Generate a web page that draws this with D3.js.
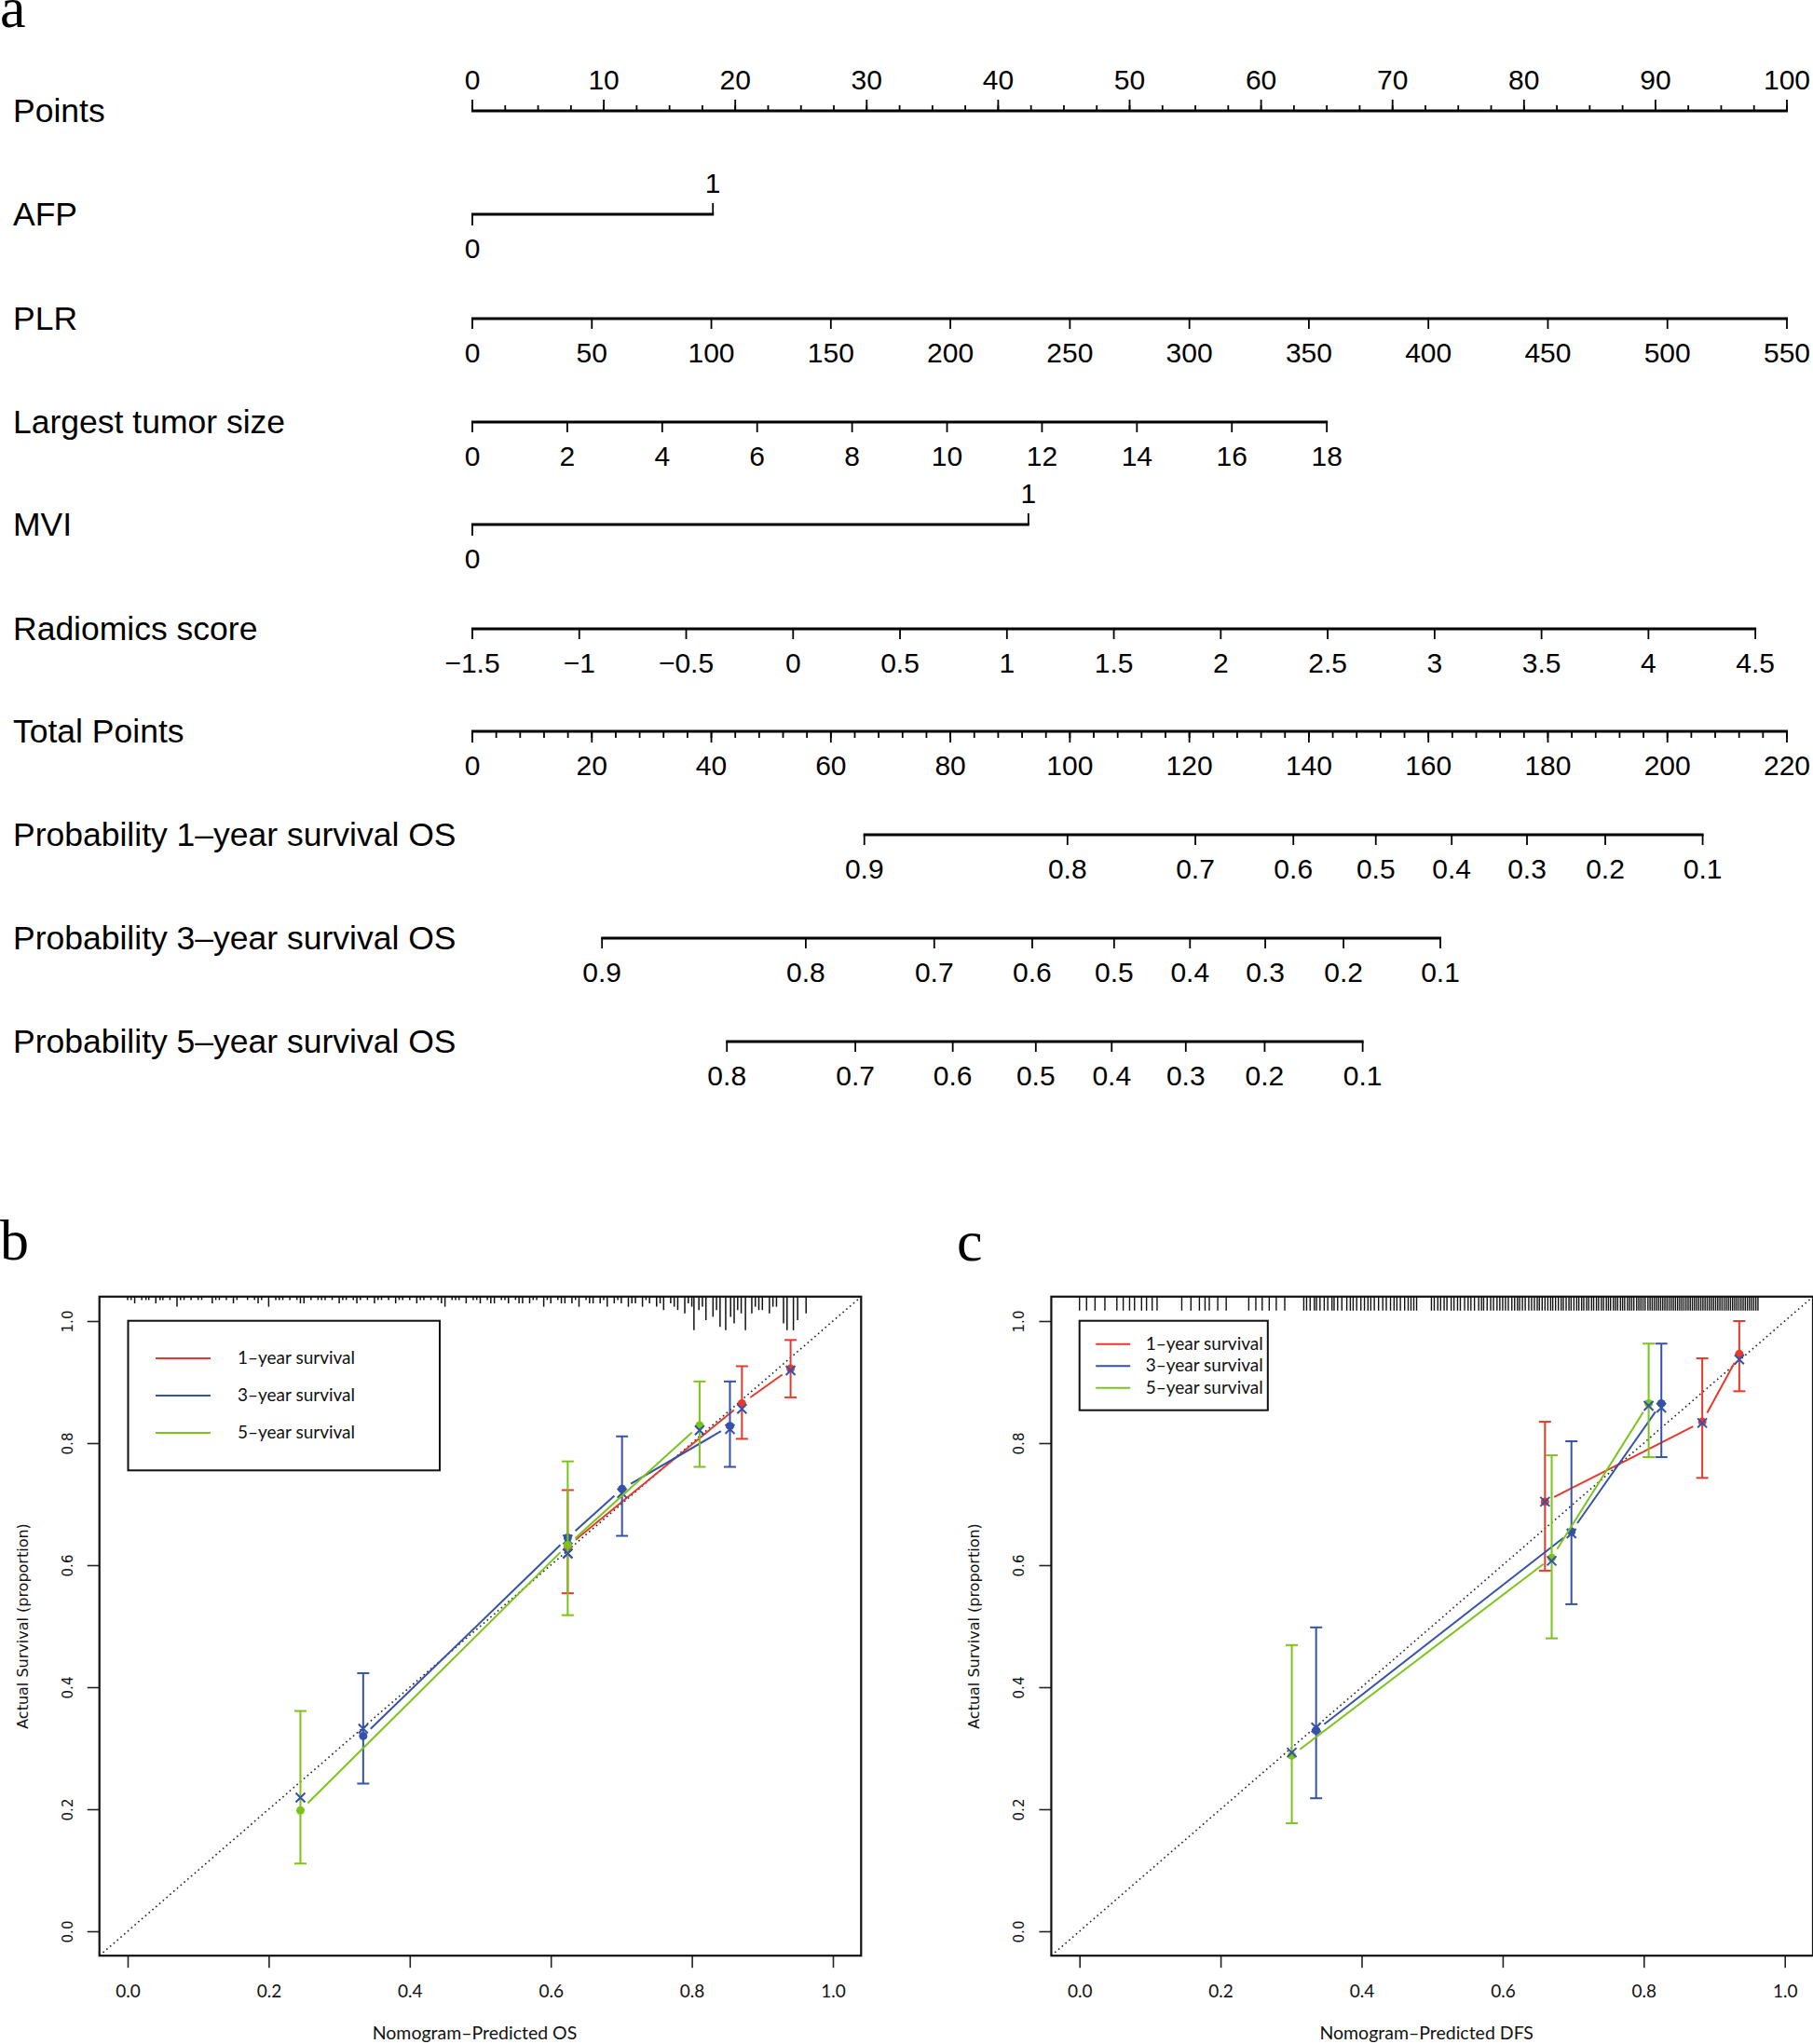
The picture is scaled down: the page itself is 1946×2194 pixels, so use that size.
<!DOCTYPE html>
<html><head><meta charset="utf-8">
<script src="https://cdn.jsdelivr.net/npm/d3@7/dist/d3.min.js"></script>
<style>html,body{margin:0;padding:0;background:#fff;} svg{display:block;}</style>
</head><body>
<script>
// ================= Nomogram data =================
const rowNames = ["Points","AFP","PLR","Largest tumor size","MVI","Radiomics score","Total Points",
  "Probability 1\u2013year survival OS","Probability 3\u2013year survival OS","Probability 5\u2013year survival OS"];
const pointsTicks = [0,10,20,30,40,50,60,70,80,90,100];
const afpLevels = [0,1];
const afpPoints = [0,18.3];
const plrTicks = [0,50,100,150,200,250,300,350,400,450,500,550];
const plrMaxPoints = 100;
const tumorTicks = [0,2,4,6,8,10,12,14,16,18];
const tumorMaxPoints = 65.0;
const mviLevels = [0,1];
const mviPoints = [0,42.3];
const radTicks = [-1.5,-1,-0.5,0,0.5,1,1.5,2,2.5,3,3.5,4,4.5];
const radMaxPoints = 97.6;
const totalTicks = [0,20,40,60,80,100,120,140,160,180,200,220];
const prob1Labels = [0.9,0.8,0.7,0.6,0.5,0.4,0.3,0.2,0.1];
const prob1Total  = [65.6,99.6,121.0,137.4,151.2,163.9,176.5,189.6,205.9];
const prob3Labels = [0.9,0.8,0.7,0.6,0.5,0.4,0.3,0.2,0.1];
const prob3Total  = [21.7,55.8,77.3,93.7,107.4,120.1,132.7,145.8,162.0];
const prob5Labels = [0.8,0.7,0.6,0.5,0.4,0.3,0.2,0.1];
const prob5Total  = [42.6,64.1,80.4,94.3,107.0,119.4,132.6,149.0];

// ================= Calibration data: OS (panel b) =================
const osRedPred  = [0.624,0.871,0.940];
const osRedObs   = [0.631,0.865,0.922];
const osRedLo    = [0.554,0.807,0.875];
const osRedHi    = [0.723,0.926,0.969];
const osRedCorr  = [0.619,0.856,0.919];
const osBluePred = [0.334,0.624,0.701,0.854];
const osBlueObs  = [0.320,0.645,0.725,0.828];
const osBlueLo   = [0.242,null,0.648,0.761];
const osBlueHi   = [0.423,null,0.811,0.901];
const osBlueCorr = [0.332,0.642,0.718,0.823];
const osGreenPred= [0.245,0.624,0.811];
const osGreenObs = [0.198,0.633,0.829];
const osGreenLo  = [0.111,0.518,0.761];
const osGreenHi  = [0.361,0.770,0.901];
const osGreenCorr= [0.219,0.619,0.821];
// distribution of predicted OS (spike histogram at top): value, frequency
const osRugVal = [0.00,0.005,0.01,0.02,0.026,0.03,0.04,0.046,0.05,0.06,0.07,0.075,0.08,0.09,0.10,0.105,0.12,0.125,0.13,0.14,
  0.15,0.155,0.17,0.18,0.185,0.19,0.20,0.21,0.215,0.22,0.23,0.24,0.245,0.25,0.26,0.27,0.275,0.28,0.29,0.30,
  0.305,0.31,0.32,0.325,0.33,0.34,0.35,0.355,0.36,0.37,0.38,0.385,0.39,0.40,0.41,0.415,0.42,0.43,0.44,0.445,
  0.45,0.46,0.465,0.47,0.48,0.49,0.495,0.50,0.51,0.515,0.52,0.53,0.535,0.54,0.55,0.555,0.56,0.57,0.575,0.58,
  0.59,0.595,0.60,0.61,0.615,0.62,0.63,0.635,0.64,0.65,0.655,0.66,0.67,0.675,0.68,0.69,0.695,0.70,0.71,0.715,
  0.72,0.73,0.735,0.74,0.75,0.755,0.76,0.77,0.775,0.78,0.79,0.795,0.80,0.803,0.81,0.815,0.82,0.83,0.835,0.84,
  0.848,0.855,0.86,0.865,0.87,0.876,0.885,0.89,0.895,0.90,0.91,0.915,0.92,0.93,0.935,0.944,0.95,0.962];
const osRugCnt = [1,1,2,1,1,1,2,1,1,1,3,1,1,1,1,1,2,1,1,1,
  2,1,1,1,2,1,3,1,1,1,1,1,2,2,1,1,1,1,1,2,
  1,1,1,2,1,1,2,1,1,1,2,1,1,1,2,1,1,1,1,2,
  3,1,1,1,2,1,1,2,1,2,2,1,1,2,1,2,2,2,1,1,
  3,1,2,1,2,2,2,1,3,1,2,2,2,1,3,2,1,2,3,2,
  2,3,1,2,3,2,4,2,3,4,5,2,3,10,4,3,7,6,4,9,
  10,6,8,4,5,10,5,3,4,4,5,3,3,8,10,10,7,5];

// ================= Calibration data: DFS (panel c) =================
const dfsRedPred  = [0.660,0.883,0.9355];
const dfsRedObs   = [0.704,0.835,0.946];
const dfsRedLo    = [0.591,0.743,0.885];
const dfsRedHi    = [0.835,0.939,1.000];
const dfsRedCorr  = [0.704,0.833,0.937];
const dfsBluePred = [0.3355,0.6975,0.825];
const dfsBlueObs  = [0.329,0.655,0.865];
const dfsBlueLo   = [0.218,0.536,0.777];
const dfsBlueHi   = [0.498,0.803,0.963];
const dfsBlueCorr = [0.334,0.652,0.858];
const dfsGreenPred= [0.301,0.6695,0.807];
const dfsGreenObs = [0.288,0.612,0.865];
const dfsGreenLo  = [0.177,0.480,0.777];
const dfsGreenHi  = [0.469,0.780,0.963];
const dfsGreenCorr= [0.293,0.607,0.861];
const dfsRugVal = [0.000,0.010,0.022,0.036,0.053,0.062,0.071,0.078,0.088,0.095,0.103,0.110,
  0.145,0.158,0.170,0.178,0.184,0.196,0.208,
  0.240,0.250,0.259,0.269,0.279,0.291,
  0.318,0.322,0.327,0.333,0.336,0.341,0.347,0.352,0.358,0.361,0.366,0.372,0.379,0.384,0.388,0.393,0.399,
  0.404,0.409,0.413,0.418,0.424,0.430,0.435,0.441,0.446,0.450,0.455,0.461,0.466,0.470,0.474,0.478,
  0.499,0.503,0.508,0.512,0.517,0.521,0.527,0.531,0.536,0.540,0.546,0.551,0.555,0.560,0.566,0.570,
  0.573,0.578,0.583,0.587,0.592,0.596,0.600,0.604,0.608,0.613,0.617,0.621,0.624,0.628,0.632,0.637,
  0.641,0.645,0.649,0.652,0.656,0.660,0.664,0.668,0.671,0.675,0.679,0.683,0.686,0.690,0.694,0.697,
  0.701,0.705,0.708,0.712,0.715,0.719,0.722,0.726,0.729,0.733,0.736,0.740,0.743,0.747,0.750,0.753,
  0.757,0.760,0.763,0.767,0.770,0.773,0.777,0.780,0.783,0.786,0.790,0.793,0.796,0.799,0.802,0.806,
  0.809,0.812,0.815,0.818,0.821,0.824,0.827,0.830,0.833,0.836,0.839,0.842,0.845,0.848,0.851,0.854,
  0.857,0.860,0.863,0.866,0.869,0.872,0.875,0.878,0.881,0.884,0.887,0.890,0.893,0.896,0.899,0.902,
  0.905,0.908,0.911,0.914,0.917,0.920,0.923,0.926,0.929,0.932,0.935,0.938,0.941,0.944,0.947,0.950,
  0.953,0.956,0.959,0.962];

const legendLabels = ["1\u2013year survival","3\u2013year survival","5\u2013year survival"];
const seriesColors = ["#e8392b","#3552a8","#7bc41a"];
const xTickVals = [0,0.2,0.4,0.6,0.8,1.0];
const yTickVals = [0,0.2,0.4,0.6,0.8,1.0];

// ================= Drawing =================
const W = 1946, H = 2194;
const SANS = "'Liberation Sans', Arial, Helvetica, sans-serif";
const svg = d3.select("body").append("svg").attr("width", W).attr("height", H)
  .style("font-family", SANS);

// panel letters
const SERIF = "'Liberation Serif', 'Times New Roman', serif";
svg.append("text").attr("x", 0).attr("y", 29).attr("font-family", SERIF).attr("font-size", 62).text("a");
svg.append("text").attr("x", 0).attr("y", 1352).attr("font-family", SERIF).attr("font-size", 62).text("b");
svg.append("text").attr("x", 1027).attr("y", 1353).attr("font-family", SERIF).attr("font-size", 62).text("c");

// ---- nomogram ----
const ptsX = d3.scaleLinear([0,100],[507,1918]);
const totX = d3.scaleLinear([0,220],[507,1918]);
const rowY = [119,230,342,453,563,675,785,896,1007,1118];
const nom = svg.append("g");
const LBL = 35.5, TCK = 30;
const fmt = d => String(d).replace("-", "\u2212");

rowNames.forEach((n,i) => {
  nom.append("text").attr("x", 14).attr("y", rowY[i] + 12).attr("font-size", LBL).text(n);
});

function hline(x1, x2, y) {
  nom.append("line").attr("x1", x1).attr("x2", x2).attr("y1", y).attr("y2", y)
    .attr("stroke", "#000").attr("stroke-width", 3).attr("stroke-linecap", "butt");
}
function tick(x, y, len) {
  nom.append("line").attr("x1", x).attr("x2", x).attr("y1", y).attr("y2", y + len)
    .attr("stroke", "#000").attr("stroke-width", 1.8);
}
function lab(x, y, t) {
  nom.append("text").attr("x", x).attr("y", y).attr("text-anchor", "middle")
    .attr("font-size", TCK).text(t);
}

// Points axis (ticks up, labels above)
{
  const y = rowY[0];
  hline(ptsX(0) - 1, ptsX(100) + 1, y);
  const minor = d3.range(0, 100.001, 2.5);
  minor.forEach(v => tick(ptsX(v), y, -6));
  pointsTicks.forEach(v => { tick(ptsX(v), y, -12); lab(ptsX(v), y - 23.5, v); });
}
// AFP (binary)
{
  const y = rowY[1];
  const xs = afpPoints.map(p => ptsX(p));
  hline(xs[0] - 1, xs[1] + 1, y);
  tick(xs[0], y, 12); lab(xs[0], y + 47, afpLevels[0]);
  tick(xs[1], y, -12); lab(xs[1], y - 23.5, afpLevels[1]);
}
// continuous variable helper
function contAxis(y, ticks, maxPts) {
  const vx = d3.scaleLinear([ticks[0], ticks[ticks.length - 1]], [ptsX(0), ptsX(maxPts)]);
  hline(vx(ticks[0]) - 1, vx(ticks[ticks.length - 1]) + 1, y);
  ticks.forEach(v => { tick(vx(v), y, 11); lab(vx(v), y + 47, fmt(v)); });
}
contAxis(rowY[2], plrTicks, plrMaxPoints);
contAxis(rowY[3], tumorTicks, tumorMaxPoints);
// MVI (binary)
{
  const y = rowY[4];
  const xs = mviPoints.map(p => ptsX(p));
  hline(xs[0] - 1, xs[1] + 1, y);
  tick(xs[0], y, 12); lab(xs[0], y + 47, mviLevels[0]);
  tick(xs[1], y, -12); lab(xs[1], y - 23.5, mviLevels[1]);
}
contAxis(rowY[5], radTicks, radMaxPoints);
// Total points
{
  const y = rowY[6];
  hline(totX(0) - 1, totX(220) + 1, y);
  d3.range(0, 220.001, 4).forEach(v => tick(totX(v), y, 7));
  totalTicks.forEach(v => { tick(totX(v), y, 12); lab(totX(v), y + 47, v); });
}
// probability axes
function probAxis(y, labels, totals) {
  const xs = totals.map(t => totX(t));
  hline(d3.min(xs) - 1, d3.max(xs) + 1, y);
  xs.forEach((x, i) => { tick(x, y, 11); lab(x, y + 47, labels[i].toFixed(1)); });
}
probAxis(rowY[7], prob1Labels, prob1Total);
probAxis(rowY[8], prob3Labels, prob3Total);
probAxis(rowY[9], prob5Labels, prob5Total);

// ---- calibration panels ----
const CALF = "Lato, 'Open Sans', sans-serif";
const AXF = "'DejaVu Sans', Verdana, sans-serif";

function drawCal(o) {
  const x = d3.scaleLinear([-0.04, 1.04], [o.x0 - 0.04 * 757, o.x0 + 1.04 * 757]);
  const y = d3.scaleLinear([-0.04, 1.04], [2073 + 0.04 * 655, 2073 - 1.04 * 655]);
  const g = svg.append("g");
  const top = y(1.04), bot = y(-0.04), left = x(-0.04), right = x(1.04);

  // rug / spike histogram at top
  if (o.rugCnt) {
    const h = d3.scaleLinear([0, 10], [0, 36]);
    g.selectAll("line.rug").data(o.rugVal).join("line")
      .attr("x1", d => x(d)).attr("x2", d => x(d))
      .attr("y1", top).attr("y2", (d, i) => top + h(o.rugCnt[i]))
      .attr("stroke", "#111").attr("stroke-width", 1.5);
  } else {
    g.selectAll("line.rug").data(o.rugVal).join("line")
      .attr("x1", d => x(d)).attr("x2", d => x(d))
      .attr("y1", top).attr("y2", top + 15)
      .attr("stroke", "#111").attr("stroke-width", 1.4);
  }

  // ideal line
  g.append("line").attr("x1", x(-0.04)).attr("y1", y(-0.04)).attr("x2", x(1.04)).attr("y2", y(1.04))
    .attr("stroke", "#222").attr("stroke-width", 1.6).attr("stroke-dasharray", "1.6,3.4");

  // axes
  const xa = g.append("g").attr("transform", `translate(0,${bot})`)
    .call(d3.axisBottom(x).tickValues(xTickVals).tickSize(13).tickFormat(d3.format(".1f")));
  xa.select(".domain").remove();
  xa.selectAll("line").attr("stroke", "#222").attr("stroke-width", 1.6);
  xa.selectAll("text").attr("y", 38).attr("dy", "0.35em").attr("font-family", CALF)
    .attr("font-size", 19).attr("fill", "#111");
  const ya = g.append("g").attr("transform", `translate(${left},0)`)
    .call(d3.axisLeft(y).tickValues(yTickVals).tickSize(13).tickFormat(d3.format(".1f")));
  ya.select(".domain").remove();
  ya.selectAll("line").attr("stroke", "#222").attr("stroke-width", 1.6);
  ya.selectAll("text").attr("x", 0).attr("y", -29).attr("dy", 0).attr("transform", "rotate(-90)")
    .attr("text-anchor", "middle").attr("font-family", AXF).attr("font-size", 15).attr("fill", "#111");

  // box
  g.append("rect").attr("x", left).attr("y", top).attr("width", right - left).attr("height", bot - top)
    .attr("fill", "none").attr("stroke", "#111").attr("stroke-width", 2.2);

  // titles
  g.append("text").attr("transform", `translate(${left - 77},${(top + bot) / 2}) rotate(-90)`)
    .attr("text-anchor", "middle").attr("font-family", AXF).attr("font-size", 16).attr("fill", "#111")
    .text("Actual Survival (proportion)");
  g.append("text").attr("x", (left + right) / 2 - 6).attr("y", 2189).attr("text-anchor", "middle")
    .attr("font-family", CALF).attr("font-size", 19.5).attr("fill", "#111").text(o.xTitle);

  // series
  const GAP = 11;
  o.series.forEach((s, si) => {
    const col = seriesColors[si];
    const px = s.pred.map(v => x(v)), py = s.obs.map(v => y(v));
    // type "b" lines with gaps around points
    for (let i = 0; i < px.length - 1; i++) {
      const dx = px[i + 1] - px[i], dy = py[i + 1] - py[i];
      const L = Math.hypot(dx, dy);
      if (L <= 2 * GAP) continue;
      const ux = dx / L, uy = dy / L;
      g.append("line").attr("x1", px[i] + ux * GAP).attr("y1", py[i] + uy * GAP)
        .attr("x2", px[i + 1] - ux * GAP).attr("y2", py[i + 1] - uy * GAP)
        .attr("stroke", col).attr("stroke-width", 2);
    }
    // error bars
    s.pred.forEach((p, i) => {
      if (s.lo[i] == null) return;
      const xx = x(p), y1 = y(s.lo[i]), y2 = y(s.hi[i]);
      g.append("line").attr("x1", xx).attr("x2", xx).attr("y1", y1).attr("y2", y2)
        .attr("stroke", col).attr("stroke-width", 2);
      [y1, y2].forEach(yy => g.append("line").attr("x1", xx - 6.5).attr("x2", xx + 6.5)
        .attr("y1", yy).attr("y2", yy).attr("stroke", col).attr("stroke-width", 2));
    });
    // observed points
    g.selectAll(null).data(s.pred).join("circle")
      .attr("cx", d => x(d)).attr("cy", (d, i) => y(s.obs[i])).attr("r", 4.5).attr("fill", col);
    // bias-corrected points (blue x)
    s.pred.forEach((p, i) => {
      const cx = x(p), cy = y(s.corr[i]), r = 5;
      g.append("path").attr("d", `M${cx - r},${cy - r}L${cx + r},${cy + r}M${cx - r},${cy + r}L${cx + r},${cy - r}`)
        .attr("stroke", "#3552a8").attr("stroke-width", 2).attr("fill", "none");
    });
  });

  // legend
  const lg = o.legend;
  g.append("rect").attr("x", lg.x).attr("y", lg.y).attr("width", lg.w).attr("height", lg.h)
    .attr("fill", "#fff").attr("stroke", "#111").attr("stroke-width", 2);
  legendLabels.forEach((t, i) => {
    const yy = lg.y + lg.first + i * lg.step;
    g.append("line").attr("x1", lg.x + lg.l1).attr("x2", lg.x + lg.l2).attr("y1", yy).attr("y2", yy)
      .attr("stroke", seriesColors[i]).attr("stroke-width", 2);
    g.append("text").attr("x", lg.x + lg.tx).attr("y", yy + 6).attr("font-family", CALF)
      .attr("font-size", 19).attr("fill", "#111").text(t);
  });
}

drawCal({
  x0: 137, xTitle: "Nomogram\u2013Predicted OS", rugVal: osRugVal, rugCnt: osRugCnt,
  series: [
    {pred: osRedPred, obs: osRedObs, lo: osRedLo, hi: osRedHi, corr: osRedCorr},
    {pred: osBluePred, obs: osBlueObs, lo: osBlueLo, hi: osBlueHi, corr: osBlueCorr},
    {pred: osGreenPred, obs: osGreenObs, lo: osGreenLo, hi: osGreenHi, corr: osGreenCorr}
  ],
  legend: {x: 137.5, y: 1417.7, w: 334.5, h: 160.6, first: 40.3, step: 40, l1: 29.5, l2: 88.5, tx: 117.5}
});
drawCal({
  x0: 1158.7, xTitle: "Nomogram\u2013Predicted DFS", rugVal: dfsRugVal, rugCnt: null,
  series: [
    {pred: dfsRedPred, obs: dfsRedObs, lo: dfsRedLo, hi: dfsRedHi, corr: dfsRedCorr},
    {pred: dfsBluePred, obs: dfsBlueObs, lo: dfsBlueLo, hi: dfsBlueHi, corr: dfsBlueCorr},
    {pred: dfsGreenPred, obs: dfsGreenObs, lo: dfsGreenLo, hi: dfsGreenHi, corr: dfsGreenCorr}
  ],
  legend: {x: 1158.7, y: 1417.7, w: 202.1, h: 96, first: 25, step: 23.5, l1: 17.5, l2: 54.5, tx: 71}
});
</script>
</body></html>
